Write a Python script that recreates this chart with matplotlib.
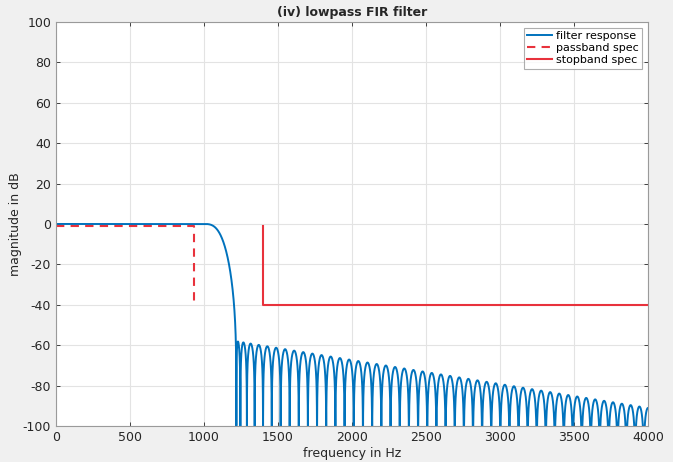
import numpy as np
import matplotlib
matplotlib.use("Agg")
import matplotlib.pyplot as plt

plt.rcParams["axes.unicode_minus"] = False

# ---- values ----
sample_rate_hz = 8000                 # x axis ends at Nyquist = 4000 Hz
filter_order = 128                    # lobe spacing ~62 Hz -> 129 taps
design_passband_edge_hz = 1020        # response still at 0 dB up to ~1000 Hz
design_stopband_edge_hz = 1215        # first null near 1225 Hz
design_passband_dev = 0.002
stopband_level_db = [-57, -90]        # sidelobe peaks at stop edge and at 4000 Hz
passband_spec_f = [0, 930, 930]
passband_spec_db = [-1, -1, -40]
stopband_spec_f = [1400, 1400, 4000]
stopband_spec_db = [-1, -40, -40]
x_ticks = [0, 500, 1000, 1500, 2000, 2500, 3000, 3500, 4000]
y_ticks = [-100, -80, -60, -40, -20, 0, 20, 40, 60, 80, 100]


# ---- linear-phase FIR with sloped stopband (Lawson-weighted least squares) ----
def design_fir():
    fs = sample_rate_hz
    M = filter_order // 2
    fpass = np.linspace(0, design_passband_edge_hz, 700)
    fstop = np.linspace(design_stopband_edge_hz, fs / 2, 3000)
    f = np.concatenate([fpass, fstop])
    D = np.concatenate([np.ones_like(fpass), np.zeros_like(fstop)])
    e0, e1 = stopband_level_db
    Es = e0 + (fstop - fstop[0]) / (fstop[-1] - fstop[0]) * (e1 - e0)
    Wb = np.concatenate([np.full_like(fpass, 1 / design_passband_dev), 10 ** (-Es / 20)])
    C = np.cos(2 * np.pi * np.outer(f, np.arange(M + 1)) / fs)
    w = np.ones_like(f)
    for _ in range(40):
        sw = np.sqrt(w) * Wb
        a, *_ = np.linalg.lstsq(C * sw[:, None], D * sw, rcond=None)
        err = np.abs((C @ a - D) * Wb)
        w = w * err
        w /= w.sum()
    return np.concatenate([a[:0:-1] / 2, [a[0]], a[1:] / 2])


h = design_fir()
nfft = 65536
H = np.fft.rfft(h, nfft)
freqs = np.fft.rfftfreq(nfft, d=1 / sample_rate_hz)
mag_db = 20 * np.log10(np.maximum(np.abs(H), 1e-12))

blue = "#0072BD"
red = "#E8323C"
txt = "#262626"

fig = plt.figure(figsize=(6.73, 4.62), dpi=100, facecolor="#f0f0f0")
ax = fig.add_axes([56 / 673, 36 / 462, 592 / 673, 404 / 462])
ax.set_facecolor("white")

ax.plot(freqs, mag_db, color=blue, lw=1.4, label="filter response")
ax.plot(passband_spec_f, passband_spec_db, color=red, lw=1.5, ls=(0, (4, 3)), label="passband spec")
ax.plot(stopband_spec_f, stopband_spec_db, color=red, lw=1.5, label="stopband spec")

ax.set_xlim(0, 4000)
ax.set_ylim(-100, 100)
ax.set_xticks(x_ticks)
ax.set_yticks(y_ticks)
ax.grid(True, color="#e3e3e3", lw=0.8)
ax.set_axisbelow(True)
ax.tick_params(direction="in", top=True, right=True, labelsize=9, colors=txt,
               length=3, width=0.6)
for s in ax.spines.values():
    s.set_color("#9a9a9a")
    s.set_linewidth(0.8)

ax.set_xlabel("frequency in Hz", fontsize=9, color=txt, labelpad=2)
ax.set_ylabel("magnitude in dB", fontsize=9, color=txt)
ax.yaxis.set_label_coords(-0.057, 0.5)
ax.set_title("(iv) lowpass FIR filter", fontsize=9, fontweight="bold", color=txt, pad=4)

leg = ax.legend(loc="upper right", fontsize=8, frameon=True, fancybox=False,
                borderpad=0.3, labelspacing=0.2, handlelength=2.2, handletextpad=0.4,
                borderaxespad=0.5)
leg.get_frame().set_edgecolor("#9a9a9a")
leg.get_frame().set_linewidth(0.8)

fig.savefig("out.png", dpi=100, facecolor=fig.get_facecolor())
